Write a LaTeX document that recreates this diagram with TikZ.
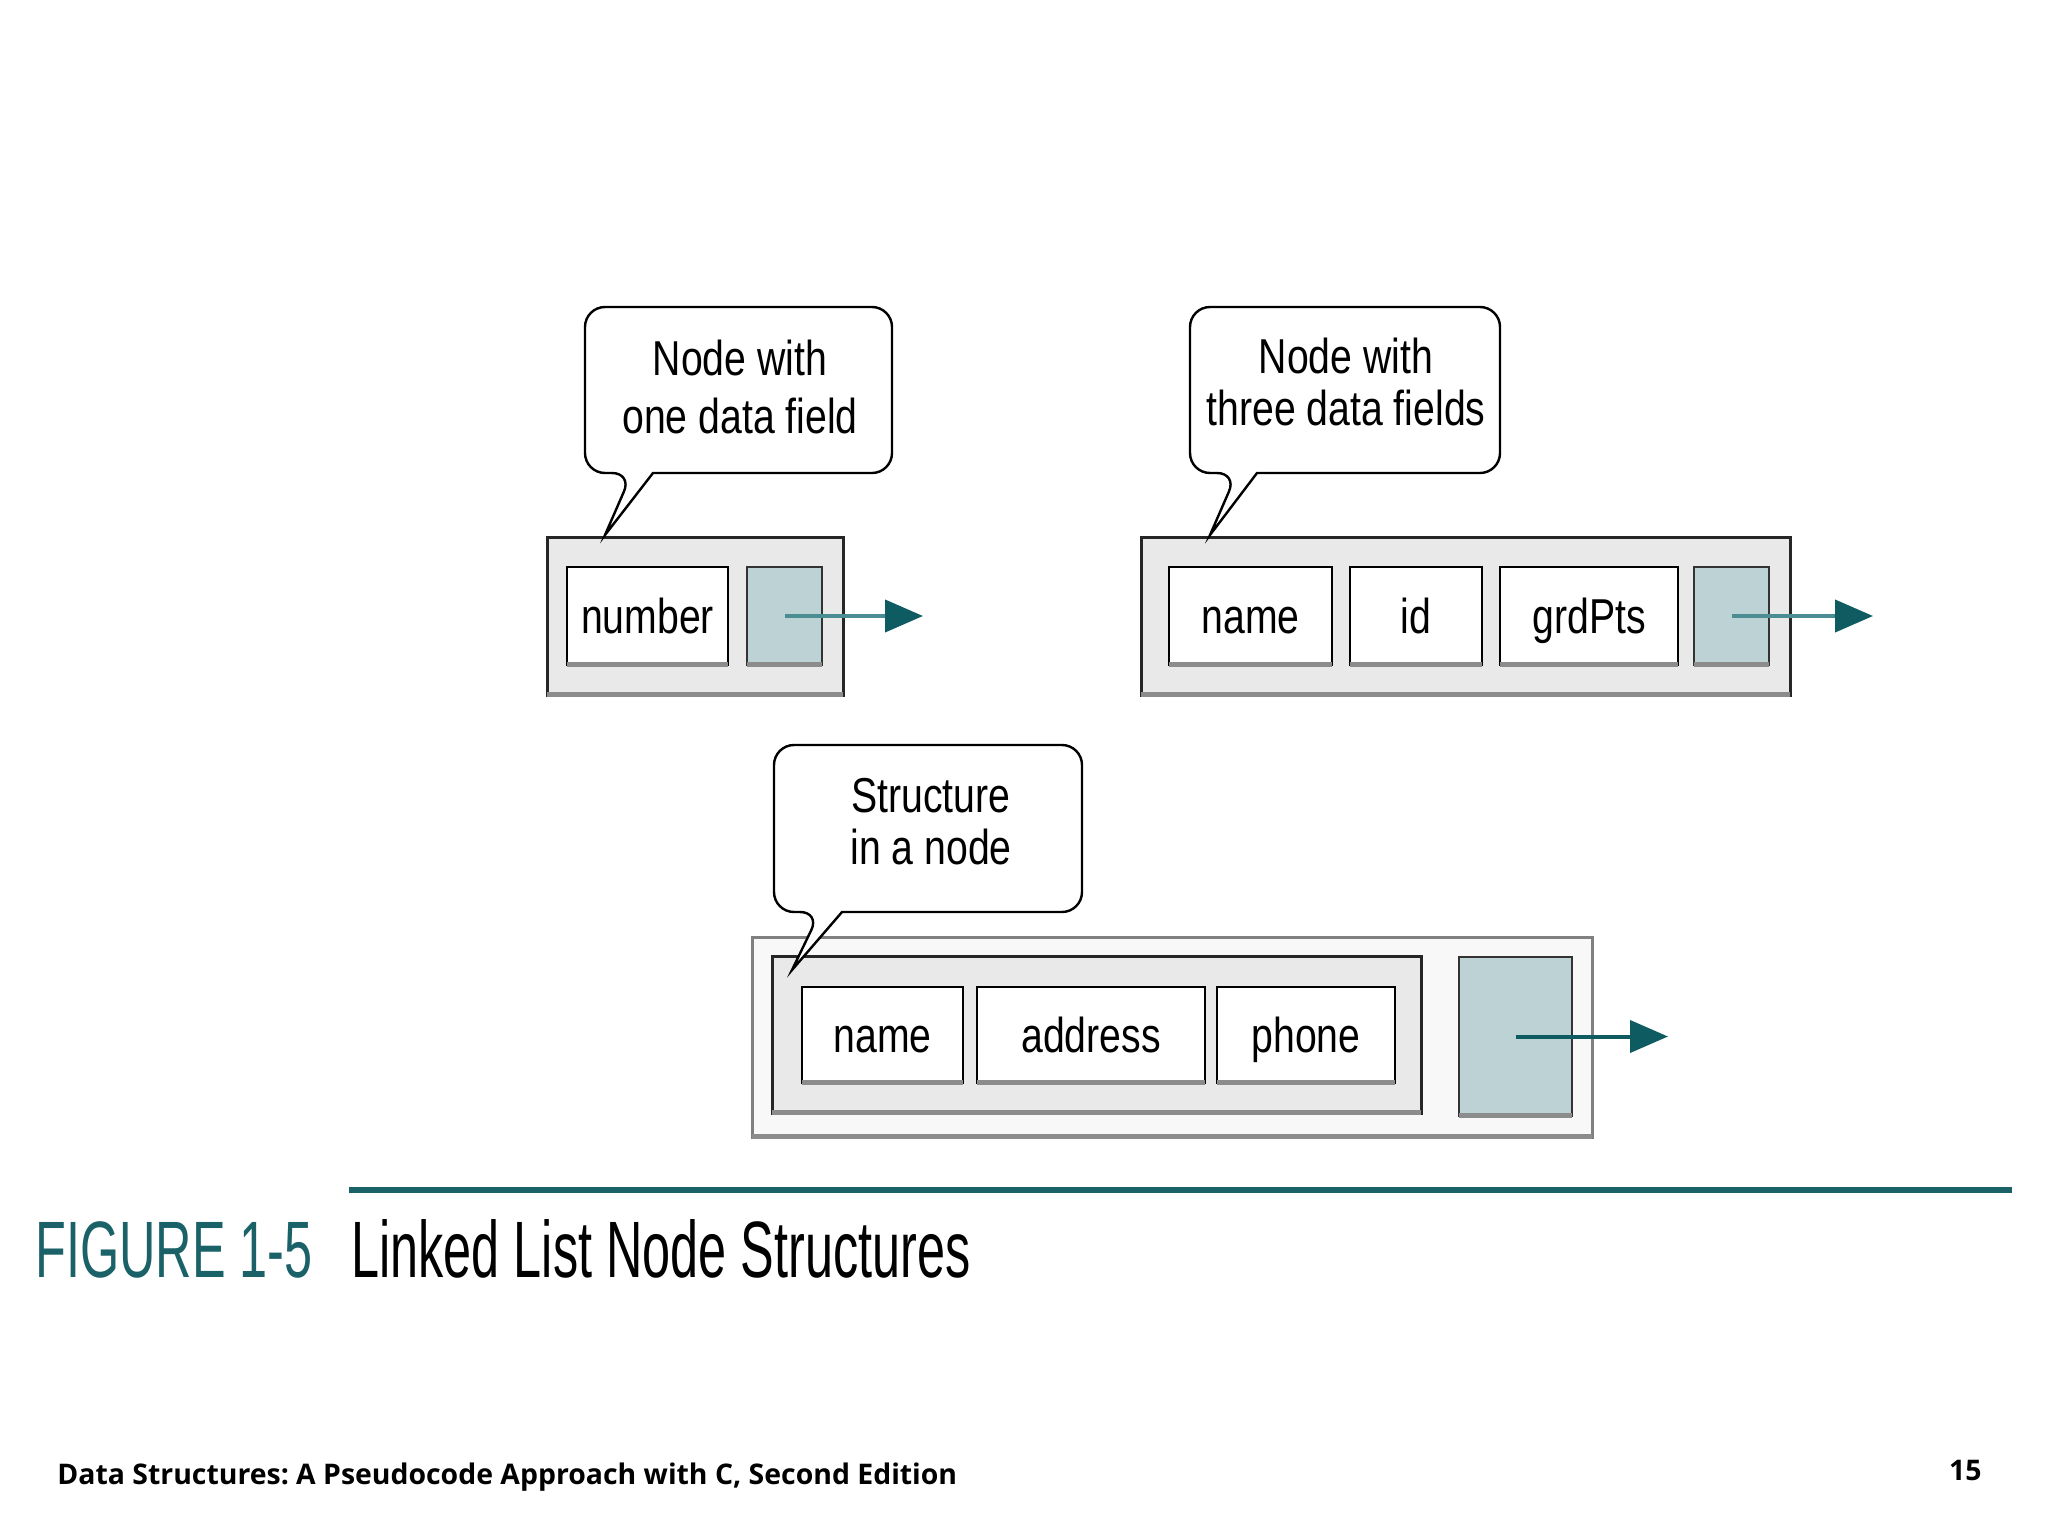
\documentclass[tikz,border=0pt]{standalone}
\usepackage{fontspec}
\setmainfont{Liberation Sans}
\newfontfamily\narrowfont[FakeStretch=0.8]{Liberation Sans}
\newfontfamily\capfont[FakeStretch=0.63]{Liberation Sans}
\newfontfamily\footfont{Open Sans}
\usetikzlibrary{arrows.meta}
\definecolor{boxgray}{HTML}{E9E9E9}
\definecolor{outerwhite}{HTML}{F8F8F8}
\definecolor{ptrfill}{HTML}{BDD2D5}
\definecolor{tealdark}{HTML}{0E5C62}
\definecolor{teallight}{HTML}{4A8E93}
\definecolor{capteal}{HTML}{1A6268}
\definecolor{shadowgray}{HTML}{8C8C8C}
\newcommand\fieldfont{\narrowfont\fontsize{24.5}{29}\selectfont}
\frenchspacing
\begin{document}
\begin{tikzpicture}[x=0.5pt,y=-0.5pt,
  outerbox/.style={draw=black!85,line width=1.5pt,fill=boxgray,inner sep=0pt,outer sep=0pt},
  field/.style={draw=black,line width=1.2pt,fill=white,inner sep=0pt,outer sep=0pt,minimum height=49pt,font=\fieldfont,text height=17.5pt,text depth=0pt},
  ptrbox/.style={draw=black!80,line width=1.2pt,fill=ptrfill,inner sep=0pt,outer sep=0pt},
  callout/.style={draw=black,line width=1.2pt,fill=white,line join=miter},
  ctext/.style={align=center,inner sep=0pt},
  link/.style={line width=2pt,-{Triangle[length=19pt,width=16pt,color=tealdark]}},
  shadowline/.style={draw=shadowgray,line width=2.5pt}
]
\fill[white] (0,0) rectangle (2048,1536);
\useasboundingbox (0,0) rectangle (2048,1536);

% ---------- node with one data field ----------
\node[outerbox,minimum width=148pt,minimum height=79pt] (box1) at (695,616) {};
\node[field,minimum width=80.5pt] (number) at (647.5,616) {number};
\node[ptrbox,minimum width=37.5pt,minimum height=49pt] (ptr1) at (784.5,616) {};
\coordinate (end1) at (923,616);
\draw[link,teallight] (ptr1.center) -- (end1);

\draw[callout] (653,473) [rounded corners=10pt] -- (892,473) -- (892,307) -- (585,307) -- (585,473) -- (632,473) [sharp corners] -- (605,535) -- cycle;
\node[ctext,font=\narrowfont\fontsize{24.5}{29}\selectfont] (c1) at (740,386.5) {Node with\\one data field};

% ---------- node with three data fields ----------
\node[outerbox,minimum width=324.5pt,minimum height=79pt] (box2) at (1465.5,616) {};
\node[field,minimum width=81.5pt] (name2) at (1250.5,616) {name};
\node[field,minimum width=66pt] (id) at (1416,616) {id};
\node[field,minimum width=89pt] (grd) at (1589,616) {grdPts};
\node[ptrbox,minimum width=37.5pt,minimum height=49pt] (ptr2) at (1731.5,616) {};
\coordinate (end2) at (1873,616);
\draw[link,teallight] (ptr2.center) -- (end2);

\draw[callout] (1257,473) [rounded corners=10pt] -- (1500,473) -- (1500,307) -- (1190,307) -- (1190,473) -- (1237,473) [sharp corners] -- (1210,535) -- cycle;
\node[ctext,font=\narrowfont\fontsize{24.5}{26}\selectfont] (c2) at (1346,381.5) {Node with\\three data fields};

% ---------- structure in a node ----------
\node[outerbox,draw=black!50,fill=outerwhite,minimum width=420pt,minimum height=100pt] (box3) at (1172,1037) {};
\node[outerbox,minimum width=324.5pt,minimum height=78.5pt] (inner) at (1096.5,1034.5) {};
\node[field,minimum width=80.5pt,minimum height=48pt] (name3) at (882.5,1035) {name};
\node[field,minimum width=114pt,minimum height=48pt] (addr) at (1091,1035) {address};
\node[field,minimum width=89pt,minimum height=48pt] (phone) at (1306,1035) {phone};
\node[ptrbox,minimum width=56.5pt,minimum height=79.5pt] (ptr3) at (1515.5,1036.5) {};
\coordinate (end3) at (1668,1036.5);
\draw[link,tealdark] (ptr3.center) -- (end3);

\draw[callout] (842,912) [rounded corners=10pt] -- (1082,912) -- (1082,745) -- (774,745) -- (774,912) -- (820,912) [sharp corners] -- (792,970) -- cycle;
\node[ctext,font=\narrowfont\fontsize{24.5}{26}\selectfont] (c3) at (931,821.5) {Structure\\in a node};

% shadows under the boxes
\foreach \n in {number,ptr1,name2,id,grd,ptr2,name3,addr,phone,ptr3,box1,box2,box3,inner}
  \draw[shadowline] ([yshift=0.4pt]\n.south west) -- ([yshift=0.4pt]\n.south east);

% ---------- caption ----------
\coordinate (rulestart) at (349,1190);
\coordinate (ruleend) at (2012,1190);
\draw[capteal,line width=3.2pt] (rulestart) -- (ruleend);
\node[anchor=base west,inner sep=0pt,font=\capfont\fontsize{40}{48}\selectfont,text=capteal] (fig) at (35,1277) {FIGURE 1-5};
\node[anchor=base west,inner sep=0pt,font=\capfont\fontsize{40}{48}\selectfont] (title) at (351,1277) {Linked List Node Structures};

% ---------- footer ----------
\node[anchor=base west,inner sep=0pt,font=\footfont\bfseries\fontsize{14.2}{16}\selectfont] (foot) at (57,1484) {Data Structures: A Pseudocode Approach with C, Second Edition};
\node[anchor=base east,inner sep=0pt,font=\footfont\bfseries\fontsize{14.2}{16}\selectfont] (page) at (1982,1480) {15};
\end{tikzpicture}
\end{document}
